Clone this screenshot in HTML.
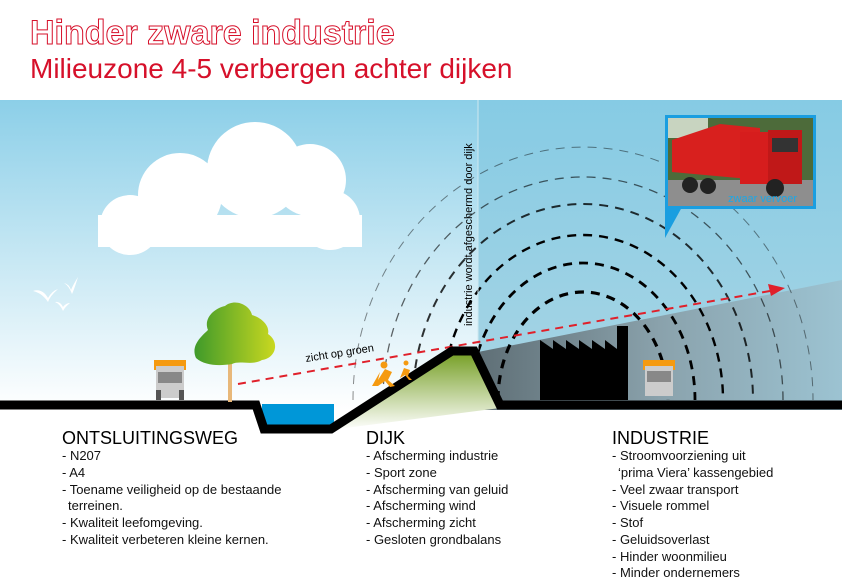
<!DOCTYPE html>
<html><head><meta charset="utf-8"><style>
html,body{margin:0;padding:0;background:#fff}
svg{display:block}
text{font-family:"Liberation Sans",sans-serif}
.n{font-size:13px;fill:#111}
.h{font-size:18px;fill:#000}
</style></head><body>
<svg width="842" height="582" viewBox="0 0 842 582" xmlns="http://www.w3.org/2000/svg">
<defs>
<linearGradient id="sky" x1="0" y1="0" x2="0" y2="1">
<stop offset="0" stop-color="#8ccfe8"/><stop offset="1" stop-color="#ffffff"/>
</linearGradient>
<linearGradient id="skyR" x1="0" y1="0" x2="0" y2="1">
<stop offset="0" stop-color="#86cbe4"/><stop offset="1" stop-color="#a9d5e4"/>
</linearGradient>
<linearGradient id="shade" x1="0" y1="0" x2="1" y2="0">
<stop offset="0" stop-color="#5f6f76"/><stop offset="0.5" stop-color="#8aa2ac"/><stop offset="1" stop-color="#9cc3d2"/>
</linearGradient>
<linearGradient id="dike" x1="0" y1="0" x2="0" y2="1">
<stop offset="0" stop-color="#6f9a1a"/><stop offset="1" stop-color="#ffffff"/>
</linearGradient>
<linearGradient id="tree" x1="0" y1="0" x2="1" y2="0">
<stop offset="0" stop-color="#3f9a2a"/><stop offset="1" stop-color="#c9d820"/>
</linearGradient>
</defs>
<rect width="842" height="100" fill="#fff"/>
<rect y="100" width="478" height="310" fill="url(#sky)"/>
<rect x="478" y="100" width="364" height="310" fill="url(#skyR)"/>
<polygon points="478,352 842,280 842,410 478,410" fill="url(#shade)"/>
<!-- cloud -->
<g fill="#fff">
<circle cx="180" cy="195" r="42"/><circle cx="255" cy="170" r="48"/><circle cx="310" cy="180" r="36"/>
<circle cx="130" cy="225" r="30"/><circle cx="330" cy="220" r="30"/>
<rect x="98" y="215" width="264" height="32"/>
</g>
<!-- birds -->
<g fill="#fff">
<path d="M33,291 Q42,288 48,298 Q52,291 58,289 Q50,296 48,302 Q42,293 33,291Z"/>
<path d="M64,283 Q69,284 71,290 Q73,285 78,277 Q74,290 72,294 Q69,286 64,283Z"/>
<path d="M55,302 Q60,301 63,307 Q66,303 70,303 Q65,307 63,311 Q60,304 55,302Z"/>
</g>
<!-- arcs -->
<g fill="none" stroke="#000" stroke-dasharray="9,7">
<path d="M353,400 A230,253 0 0 1 813,400" stroke-width="1" stroke-opacity="0.45"/>
<path d="M383,400 A200,223 0 0 1 783,400" stroke-width="1.3" stroke-opacity="0.6"/>
<path d="M413,400 A170,196 0 0 1 753,400" stroke-width="2" stroke-opacity="0.8"/>
<path d="M443,400 A140,165 0 0 1 723,400" stroke-width="2.4"/>
<path d="M471,400 A112,137 0 0 1 695,400" stroke-width="2.8"/>
<path d="M498,400 A85,108 0 0 1 668,400" stroke-width="3.2"/>
</g>
<line x1="478" y1="100" x2="478" y2="350" stroke="#cfe8f0" stroke-width="1"/>
<!-- factory -->
<polygon points="540,400 540,340 553,349 553,340 566,349 566,340 579,349 579,340 592,349 592,340 605,349 605,340 617,349 617,326 628,326 628,400" fill="#000"/>
<!-- red line -->
<line x1="238" y1="384" x2="770" y2="291" stroke="#e0202a" stroke-width="2" stroke-dasharray="8,6"/>
<polygon points="785,288 768,284 771,296" fill="#e0202a"/>
<text x="306" y="362" font-size="11" transform="rotate(-9 306 362)" fill="#000">zicht op groen</text>
<!-- dike -->
<polygon points="330,430 452,349 474,349 500,408 330,430" fill="url(#dike)"/>
<rect x="262" y="404" width="72" height="26" fill="#0097d8"/>
<path d="M0,405 L256,405 L264,429 L331,429 L452,351 L474,351 L500,405 L842,405" fill="none" stroke="#000" stroke-width="9" stroke-linejoin="miter"/>
<!-- runners -->
<g fill="#f59a10">
<circle cx="384" cy="365" r="3.5"/><path d="M372,386 L380,372 L378,380 L385,369 L392,372 L388,380 L395,386 L390,387 L385,381 L378,386 Z"/>
<circle cx="406" cy="363" r="2.5"/><path d="M400,378 L404,368 L410,370 L408,376 L412,380 L409,380 L405,375 Z"/>
</g>
<!-- tree -->
<rect x="228" y="330" width="4" height="72" fill="#e8b87a"/>
<path d="M196,358 C190,345 203,335 208,330 C203,318 215,308 225,306 C235,298 250,305 252,315 C262,318 270,326 268,334 C280,342 276,358 262,360 C252,366 240,360 232,364 C220,366 205,366 196,358Z" fill="url(#tree)"/>
<!-- trucks -->
<g>
<rect x="154" y="360" width="32" height="10" fill="#f59a10"/>
<rect x="156" y="366" width="28" height="32" fill="#ccc"/>
<rect x="158" y="372" width="24" height="11" fill="#888"/>
<rect x="156" y="390" width="5" height="10" fill="#555"/><rect x="179" y="390" width="5" height="10" fill="#555"/>
</g>
<g>
<rect x="643" y="360" width="32" height="10" fill="#f59a10"/>
<rect x="645" y="366" width="28" height="30" fill="#ccc"/>
<rect x="647" y="371" width="24" height="11" fill="#888"/>
</g>
<!-- photo -->
<polygon points="665,207 682,207 665,238" fill="#1a9ee0"/>
<rect x="666.5" y="116.5" width="148" height="91" fill="#4d6b3a" stroke="#1a9ee0" stroke-width="3"/>
<rect x="668" y="118" width="40" height="20" fill="#c8d4c0"/>
<rect x="668" y="180" width="145" height="26" fill="#8e8e8e"/>
<polygon points="672,140 720,124 760,128 760,180 672,172" fill="#d8201e"/>
<rect x="740" y="132" width="36" height="52" fill="#d61d1d"/>
<rect x="768" y="130" width="34" height="54" fill="#c01818"/>
<rect x="772" y="138" width="26" height="14" fill="#333"/>
<circle cx="690" cy="185" r="8" fill="#222"/><circle cx="708" cy="186" r="8" fill="#222"/><circle cx="775" cy="188" r="9" fill="#222"/>
<text x="728" y="202" font-size="11" fill="#1aa8e8">zwaar vervoer</text>
<!-- vertical label -->
<text x="472" y="326" font-size="11" fill="#000" transform="rotate(-90 472 326)">industrie wordt afgeschermd door dijk</text>
<!-- titles -->
<text x="30" y="44" font-size="34" font-weight="bold" fill="#fff" stroke="#d6102a" stroke-width="1">Hinder zware industrie</text>
<text x="30" y="78" font-size="28" fill="#d6102a">Milieuzone 4-5 verbergen achter dijken</text>
<!-- lists -->
<text class="h" x="62" y="444">ONTSLUITINGSWEG</text>
<g class="n">
<text x="62" y="460">- N207</text><text x="62" y="477">- A4</text>
<text x="62" y="494">- Toename veiligheid op de bestaande</text>
<text x="68" y="510">terreinen.</text>
<text x="62" y="527">- Kwaliteit leefomgeving.</text>
<text x="62" y="544">- Kwaliteit verbeteren kleine kernen.</text>
</g>
<text class="h" x="366" y="444">DIJK</text>
<g class="n">
<text x="366" y="460">- Afscherming industrie</text><text x="366" y="477">- Sport zone</text>
<text x="366" y="494">- Afscherming van geluid</text><text x="366" y="510">- Afscherming wind</text>
<text x="366" y="527">- Afscherming zicht</text><text x="366" y="544">- Gesloten grondbalans</text>
</g>
<text class="h" x="612" y="444">INDUSTRIE</text>
<g class="n">
<text x="612" y="460">- Stroomvoorziening uit</text><text x="618" y="477">‘prima Viera’ kassengebied</text>
<text x="612" y="494">- Veel zwaar transport</text><text x="612" y="510">- Visuele rommel</text>
<text x="612" y="527">- Stof</text><text x="612" y="544">- Geluidsoverlast</text>
<text x="612" y="561">- Hinder woonmilieu</text><text x="612" y="577">- Minder ondernemers</text>
</g>
</svg>
</body></html>
